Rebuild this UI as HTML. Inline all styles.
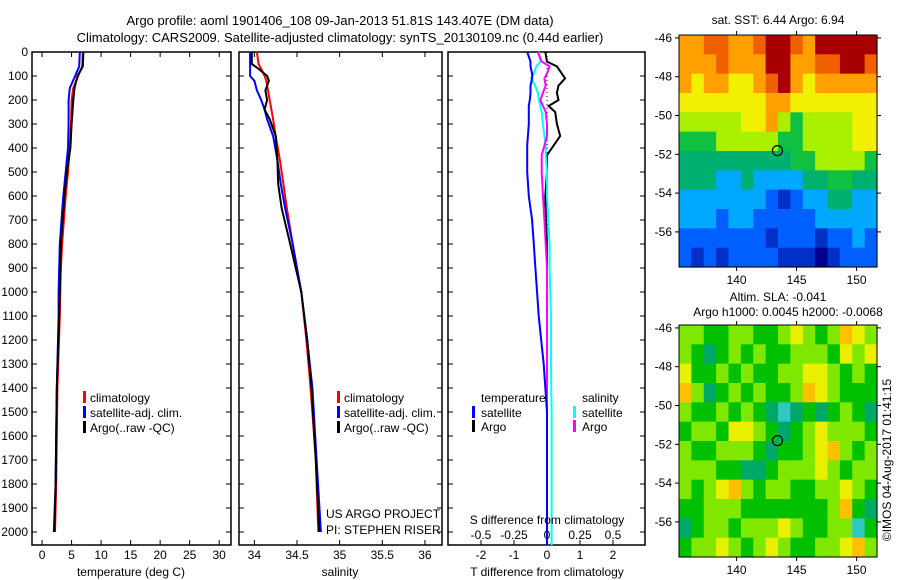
<!DOCTYPE html>
<html><head><meta charset="utf-8"><style>
html,body{margin:0;padding:0;background:#fff;}
svg{display:block;font-family:"Liberation Sans",sans-serif;}
text{font-size:12px;fill:#000;}
</style></head><body>
<svg id="chart" width="900" height="580" viewBox="0 0 900 580" xmlns="http://www.w3.org/2000/svg">
<text x="340" y="25" text-anchor="middle" style="font-size:13px">Argo profile: aoml 1901406_108 09-Jan-2013 51.81S 143.407E (DM data)</text>
<text x="340" y="42" text-anchor="middle" style="font-size:13px">Climatology: CARS2009. Satellite-adjusted climatology: synTS_20130109.nc (0.44d earlier)</text>
<text x="778" y="24" text-anchor="middle">sat. SST: 6.44 Argo: 6.94</text>
<text x="778" y="301" text-anchor="middle">Altim. SLA: -0.041</text>
<text x="788" y="316" text-anchor="middle">Argo h1000: 0.0045 h2000: -0.0068</text>
<text transform="translate(891,460) rotate(-90)" text-anchor="middle">©IMOS 04-Aug-2017 01:41:15</text>
</svg>
<script>
// ---------- data ----------
const tDepth = [0,60,100,150,200,300,400,500,600,700,800,900,1000,1100,1400,1600,1800,2000];
const tArgo  = [7.0,6.9,6.0,5.5,5.3,5.0,4.8,4.2,3.8,3.5,3.2,3.1,3.0,2.9,2.5,2.4,2.3,2.1];
const tClim  = [6.9,6.8,6.1,5.3,5.0,4.9,4.7,4.4,4.0,3.7,3.4,3.2,3.1,3.0,2.6,2.5,2.4,2.2];
const tSat   = [6.4,6.3,5.6,4.7,4.5,4.5,4.4,4.0,3.6,3.3,3.0,2.9,2.8,2.8,2.5,2.4,2.3,2.0];
const sDepth = [0,50,70,100,120,160,200,240,280,350,450,550,650,800,1000,1200,1400,1700,2000];
const sArgo  = [33.97,33.97,34.05,34.15,34.17,34.13,34.15,34.12,34.18,34.25,34.27,34.28,34.32,34.42,34.55,34.62,34.67,34.72,34.76];
const sClim  = [34.03,34.05,34.08,34.12,34.14,34.16,34.18,34.2,34.22,34.25,34.3,34.34,34.38,34.45,34.55,34.61,34.66,34.72,34.75];
const sSat   = [33.95,33.95,33.95,33.95,34.0,34.03,34.08,34.12,34.15,34.22,34.27,34.31,34.36,34.45,34.55,34.62,34.68,34.73,34.78];
const dDepth = [0,40,60,90,110,140,170,200,225,250,300,350,390,430,500,600,700,800,900,1100,1300,1500,2055];
const dTSat  = [-0.6,-0.5,-0.5,-0.45,-0.45,-0.5,-0.5,-0.52,-0.55,-0.55,-0.55,-0.58,-0.6,-0.6,-0.6,-0.55,-0.45,-0.4,-0.35,-0.25,-0.1,0,0];
const dTArgo = [-0.05,0,0.3,0.45,0.55,0.35,0.3,0.35,0.05,0.25,0.3,0.4,0.2,0,0,-0.05,-0.03,0,0,0,0,0,0];
const dSSat  = [-0.06,-0.05,-0.08,-0.1,-0.12,-0.09,-0.07,-0.06,-0.05,-0.04,-0.03,-0.02,-0.01,-0.01,0,0,0.01,0.02,0.02,0.03,0.03,0.035,0.035];
const dSArgo = [-0.07,-0.04,0.02,0.0,-0.02,-0.01,-0.03,-0.05,-0.03,-0.01,0.0,0.0,-0.02,-0.04,-0.04,-0.03,-0.02,-0.01,0,0,0,0,0];
const depthTicks = [0,100,200,300,400,500,600,700,800,900,1000,1100,1200,1300,1400,1500,1600,1700,1800,1900,2000];
const tTicks = [0,5,10,15,20,25,30];
const sTicks = [34,34.5,35,35.5,36];
const sTickLabels = ["34","34.5","35","35.5","36"];
const dTTicks = [-2,-1,0,1,2];
const dSTicks = [-0.5,-0.25,0,0.25,0.5];
const lonTicks = [140,145,150];
const latTicks = [-46,-48,-50,-52,-54,-56];
const sstGrid = [
[8,8,9,9,8,8,9,10,10,9,8,10,10,10,10,10],
[8,8,8,9,8,8,8,10,10,8,8,9,9,10,10,9],
[8,7,8,8,7,7,8,9,10,8,7,8,8,8,8,8],
[7,7,7,7,7,7,7,8,8,7,7,7,7,7,7,7],
[6,6,6,6,6,7,7,8,6,5,6,6,6,6,7,7],
[5,5,5,6,6,6,6,6,5,5,6,6,6,6,7,7],
[4,4,4,4,4,4,4,4,4,5,5,6,6,6,6,5],
[4,4,4,3,3,4,3,3,3,3,4,4,5,5,4,4],
[3,3,3,3,3,3,3,2,1,2,3,3,4,4,3,3],
[3,3,3,2,3,3,2,2,2,2,2,3,3,3,3,3],
[2,2,2,2,2,2,2,1,2,2,2,1,2,2,3,2],
[2,1,2,1,2,2,2,2,1,1,1,0,1,2,2,2]];
const slaGrid = [
[3,3,2,2,3,3,2,2,3,4,3,2,3,5,4,3],
[3,2,1,2,3,2,3,2,2,3,3,3,2,4,3,4],
[4,2,2,3,2,3,2,2,3,3,4,4,3,2,3,2],
[5,3,1,2,3,2,3,2,2,3,5,4,3,2,2,2],
[3,2,2,3,2,3,2,1,0,1,2,1,2,3,2,1],
[2,3,3,2,4,4,3,2,1,2,3,4,3,3,3,2],
[3,2,2,3,3,3,2,1,2,2,3,4,5,3,2,3],
[3,3,3,2,2,1,1,2,3,3,3,4,3,2,3,3],
[3,2,3,4,5,3,2,3,3,2,2,3,3,4,3,2],
[2,2,3,3,3,2,2,2,2,2,2,2,3,5,2,1],
[1,2,3,3,2,3,3,3,4,3,2,2,3,3,0,2],
[2,3,3,4,3,2,3,4,3,2,2,3,3,4,5,3]];
const argoLon = 143.407;
const argoLat = -51.81;

// ---------- styling ----------
const sstColors = ["#00008f","#0030c8","#0060ff","#00a8ff","#00b070","#10c040","#a8f000","#f0f000","#ffa000","#f06000","#a80000"];
const slaColors = ["#30c8c0","#00a868","#00c000","#80e800","#e8f000","#ffc000"];
const NS = "http://www.w3.org/2000/svg";
const svg = document.getElementById("chart");
function mk(tag, attrs, parent){const e=document.createElementNS(NS,tag);for(const k in attrs)e.setAttribute(k,attrs[k]);(parent||svg).appendChild(e);return e;}

const top0 = 52, pxPerM = 0.24, bot = 545;
const yD = d => top0 + d*pxPerM;

function panel(name, x0, x1, dmin, dmax, showDepthLabels){
  const g = mk("g",{});
  
  
  const xs = v => x0 + (v-dmin)/(dmax-dmin)*(x1-x0);
  const frame = mk("rect",{x:x0,y:top0,width:x1-x0,height:bot-top0,fill:"none",stroke:"#000","stroke-width":1.5},g);
  
  
  depthTicks.forEach(d=>{
    const y=yD(d);
    mk("line",{x1:x0,y1:y,x2:x0+5,y2:y,stroke:"#000"},g);
    mk("line",{x1:x1-5,y1:y,x2:x1,y2:y,stroke:"#000"},g);
    if(showDepthLabels){
      const t=mk("text",{x:28,y:y+4,"text-anchor":"end"},g);
      t.textContent=d;
      
      
    }
  });
  return {g, xs};
}
function line(g, xs, vals, depths, color, name){
  const pts = vals.map((v,i)=>xs(v).toFixed(1)+","+yD(depths[i]).toFixed(1)).join(" ");
  const p = mk("polyline",{points:pts,fill:"none",stroke:color,"stroke-width":2},g);
  
  
}
function xTicks(g, xs, ticks, labels, y, withTop){
  ticks.forEach((v,i)=>{
    const x=xs(v);
    mk("line",{x1:x,y1:bot,x2:x,y2:bot-5,stroke:"#000"},g);
    if(withTop) mk("line",{x1:x,y1:top0,x2:x,y2:top0+5,stroke:"#000"},g);
    if(labels){
      const t=mk("text",{x:x,y:y,"text-anchor":"middle"},g);
      t.textContent=labels[i];
      
      
    }
  });
}
function txt(g, x, y, s, name, anchor){
  const t=mk("text",{x:x,y:y,"text-anchor":anchor||"start"},g);
  t.textContent=s;
  
  
  return t;
}
function legendBar(g, x, y, color, name){
  const r=mk("rect",{x:x,y:y-11,width:3,height:12,fill:color},g);
  
  
}

// Panel 1 temperature
const p1 = panel("temperature-panel", 32, 231, -1.7, 32, true);
xTicks(p1.g, p1.xs, tTicks, tTicks.map(String), 559, true);
line(p1.g, p1.xs, tClim, tDepth, "#ff0000", "temp-climatology-line");
line(p1.g, p1.xs, tSat, tDepth, "#0000ff", "temp-satellite-line");
line(p1.g, p1.xs, tArgo, tDepth, "#000000", "temp-argo-line");
txt(p1.g, 131, 576, "temperature (deg C)", "x-axis-title-temperature", "middle");
[["#ff0000","climatology"],["#0000ff","satellite-adj. clim."],["#000000","Argo(..raw -QC)"]].forEach((e,i)=>{
  legendBar(p1.g, 83, 402+i*15, e[0], "legend-swatch");
  txt(p1.g, 90, 402+i*15, e[1], "legend-entry");
});

// Panel 2 salinity
const p2 = panel("salinity-panel", 239, 442, 33.82, 36.2, false);
xTicks(p2.g, p2.xs, sTicks, sTickLabels, 559, true);
line(p2.g, p2.xs, sClim, sDepth, "#ff0000", "sal-climatology-line");
line(p2.g, p2.xs, sSat, sDepth, "#0000ff", "sal-satellite-line");
line(p2.g, p2.xs, sArgo, sDepth, "#000000", "sal-argo-line");
txt(p2.g, 340, 576, "salinity", "x-axis-title-salinity", "middle");
[["#ff0000","climatology"],["#0000ff","satellite-adj. clim."],["#000000","Argo(..raw -QC)"]].forEach((e,i)=>{
  legendBar(p2.g, 337, 402+i*15, e[0], "legend-swatch");
  txt(p2.g, 344, 402+i*15, e[1], "legend-entry");
});
txt(p2.g, 326, 518, "US ARGO PROJECT", "project-label");
txt(p2.g, 326, 534, "PI: STEPHEN RISER", "pi-label");

// Panel 3 differences
const p3 = panel("difference-panel", 448, 645, -3, 2.97, false);
const xsS = v => 547 + v*132;
xTicks(p3.g, p3.xs, dTTicks, dTTicks.map(String), 559, false);
dSTicks.forEach(v=>{ const t=txt(p3.g, xsS(v), 539, String(v), "s-tick-label", "middle"); });
const zl = mk("line",{x1:547,y1:top0,x2:547,y2:bot,stroke:"#000","stroke-dasharray":"1,3"},p3.g);


line(p3.g, p3.xs, dTArgo, dDepth, "#000000", "tdiff-argo-line");
line(p3.g, xsS, dSSat, dDepth, "#00ffff", "sdiff-satellite-line");
line(p3.g, xsS, dSArgo, dDepth, "#ff00ff", "sdiff-argo-line");
line(p3.g, p3.xs, dTSat, dDepth, "#0000ff", "tdiff-satellite-line");
txt(p3.g, 547, 576, "T difference from climatology", "x-axis-title-tdiff", "middle");
txt(p3.g, 547, 524, "S difference from climatology", "x-axis-title-sdiff", "middle");
txt(p3.g, 481, 402, "temperature", "legend-header-temperature");
txt(p3.g, 582, 402, "salinity", "legend-header-salinity");
legendBar(p3.g, 472, 417, "#0000ff", "legend-swatch"); txt(p3.g, 481, 417, "satellite", "legend-entry");
legendBar(p3.g, 472, 431, "#000000", "legend-swatch"); txt(p3.g, 481, 431, "Argo", "legend-entry");
legendBar(p3.g, 573, 417, "#00ffff", "legend-swatch"); txt(p3.g, 582, 417, "satellite", "legend-entry");
legendBar(p3.g, 573, 431, "#ff00ff", "legend-swatch"); txt(p3.g, 582, 431, "Argo", "legend-entry");

// Maps
function map(name, y0, y1, latTop, grid, colors){
  const x0=679, x1=877, lonMin=135.2, lonMax=151.7;
  const latBot = latTop - (y1-y0)/19.4;
  const g = mk("g",{});
  
  
  const xL = lon => x0 + (lon-lonMin)/(lonMax-lonMin)*(x1-x0);
  const yL = lat => y0 + (latTop-lat)/(latTop-latBot)*(y1-y0);
  const rows=grid.length, cols=grid[0].length;
  const cw=(x1-x0)/cols, ch=(y1-y0)/rows;
  grid.forEach((row,r)=>row.forEach((v,c)=>{
    const cell=mk("rect",{x:(x0+c*cw).toFixed(2),y:(y0+r*ch).toFixed(2),width:(cw+0.6).toFixed(2),height:(ch+0.6).toFixed(2),fill:colors[v]},g);
    
    
  }));
  const fr=mk("rect",{x:x0,y:y0,width:x1-x0,height:y1-y0,fill:"none",stroke:"#000"},g);
  
  
  lonTicks.forEach(l=>{
    const x=xL(l);
    mk("line",{x1:x,y1:y0-4,x2:x,y2:y0,stroke:"#000"},g);
    mk("line",{x1:x,y1:y1,x2:x,y2:y1+4,stroke:"#000"},g);
    txt(g, x, y1+17, String(l), "lon-tick-label", "middle");
  });
  latTicks.forEach(l=>{
    const y=yL(l);
    mk("line",{x1:x0-4,y1:y,x2:x0,y2:y,stroke:"#000"},g);
    mk("line",{x1:x1,y1:y,x2:x1+4,y2:y,stroke:"#000"},g);
    txt(g, 672, y+4, String(l), "lat-tick-label", "end");
  });
  const c=mk("circle",{cx:xL(argoLon),cy:yL(argoLat),r:5,fill:"none",stroke:"#000","stroke-width":1.2},g);
  
  
}
map("sst-map", 35, 267, -45.85, sstGrid, sstColors);
map("sla-map", 325, 557, -45.85, slaGrid, slaColors);
</script>
</body></html>
